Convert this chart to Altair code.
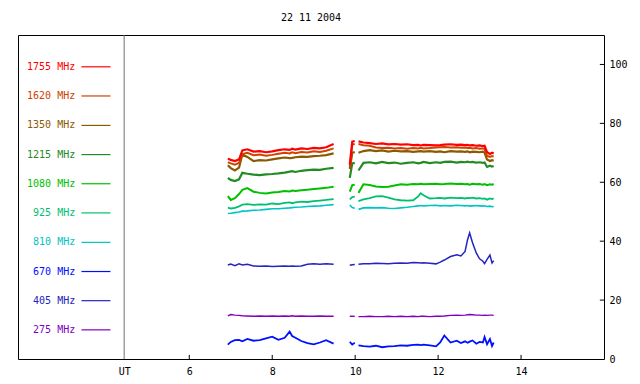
import altair as alt
import pandas as pd

TITLE = "22 11 2004"

FREQS = ["1755 MHz", "1620 MHz", "1350 MHz", "1215 MHz", "1080 MHz",
         "925 MHz", "810 MHz", "670 MHz", "405 MHz", "275 MHz"]
COLORS = ["#ff0000", "#cc4400", "#8b5a00", "#228b22", "#00c000",
          "#00c070", "#00c4c4", "#0010ff", "#2424c0", "#8000c0"]
WIDTHS = [2.2, 2.0, 2.2, 2.2, 2.0, 1.8, 1.6, 1.8, 1.5, 1.4]
LEGEND_Y = [99.2, 89.3, 79.3, 69.4, 59.5, 49.6, 39.6, 29.7, 19.8, 9.9]

# time (UT hours) of the three observed pieces
TA = [6.93, 7.0, 7.1, 7.2, 7.28, 7.4, 7.55, 7.7, 7.85, 8.0, 8.15, 8.3, 8.42,
      8.48, 8.56, 8.7, 8.85, 9.0, 9.15, 9.3, 9.48]
TB = [9.87, 9.93, 9.99]
TC = [10.08, 10.2, 10.35, 10.5, 10.65, 10.8, 10.95, 11.1, 11.25, 11.4, 11.52,
      11.58, 11.65, 11.8, 11.95, 12.05, 12.15, 12.3, 12.45, 12.55, 12.65,
      12.71, 12.76, 12.83, 12.92, 13.0, 13.08, 13.12, 13.18, 13.25, 13.3, 13.34]

f1755 = ([68.0, 67.6, 67.2, 67.8, 70.8, 71.2, 70.4, 70.6, 70.2, 70.5, 70.9,
          71.2, 71.0, 71.4, 71.1, 71.5, 71.3, 71.7, 71.5, 71.9, 73.0]
         + [66.0, 73.8, 74.0]
         + [73.9, 73.5, 73.3, 73.0, 73.2, 72.9, 73.0, 72.8, 72.9, 72.6, 72.7,
            72.5, 72.7, 72.6, 72.5, 72.6, 72.8, 72.9, 72.7, 72.8, 72.6, 72.7,
            72.5, 72.6, 72.4, 72.5, 72.3, 72.4, 70.2, 69.6, 70.0, 69.8])
f1620 = ([66.8, 66.4, 66.0, 66.6, 69.6, 70.0, 69.2, 69.4, 69.0, 69.3, 69.7,
          70.0, 69.8, 70.2, 69.9, 70.3, 70.1, 70.5, 70.3, 70.7, 71.5]
         + [65.0, 72.8, 73.0]
         + [73.0, 72.6, 72.4, 71.8, 71.6, 71.7, 71.5, 71.6, 71.4, 71.6, 71.5,
            71.7, 71.5, 71.6, 71.8, 71.9, 72.0, 71.8, 71.9, 71.7, 71.8, 71.6,
            71.7, 71.5, 71.6, 71.4, 71.5, 71.3, 69.0, 68.6, 68.9, 68.7])
f1350 = ([65.8, 64.8, 64.0, 65.0, 69.4, 68.6, 67.2, 67.5, 67.4, 67.8, 68.1,
          68.4, 68.2, 68.3, 68.5, 68.7, 68.6, 68.9, 69.0, 69.2, 69.8]
         + [64.5, 70.0, 70.3]
         + [70.0, 70.6, 70.9, 70.6, 70.8, 70.4, 70.7, 70.5, 70.6, 70.3, 70.5,
            70.6, 70.4, 70.6, 70.3, 70.5, 70.2, 70.6, 70.4, 70.5, 70.3, 70.5,
            70.2, 70.4, 70.3, 70.2, 70.4, 70.1, 67.7, 67.2, 67.5, 67.3])
f1215 = ([61.5, 60.8, 60.4, 61.0, 63.2, 62.9, 62.6, 62.4, 62.7, 62.8, 63.0,
          63.3, 63.6, 63.8, 63.5, 63.9, 64.1, 64.3, 64.2, 64.6, 64.9]
         + [61.5, 66.4, 66.6]
         + [64.0, 66.6, 66.8, 66.4, 66.9, 66.5, 66.7, 66.3, 66.6, 66.8, 66.4,
            66.6, 66.9, 66.5, 66.8, 66.6, 66.9, 67.0, 66.7, 66.9, 66.8, 67.0,
            66.8, 66.9, 66.7, 66.8, 66.6, 66.7, 65.2, 65.6, 65.3, 65.5])
f1080 = ([55.3, 54.0, 54.6, 56.0, 57.4, 58.0, 56.8, 56.4, 56.2, 56.5, 56.7,
          57.0, 56.9, 57.2, 57.0, 57.3, 57.5, 57.7, 57.9, 58.1, 58.5]
         + [56.8, 59.0, 59.2]
         + [56.4, 59.3, 59.1, 58.6, 58.4, 58.5, 58.9, 59.3, 59.2, 59.4, 59.3,
            59.5, 59.3, 59.4, 59.5, 59.3, 59.4, 59.6, 59.4, 59.5, 59.3, 59.4,
            59.2, 59.5, 59.3, 59.4, 59.2, 59.4, 59.0, 59.3, 59.2, 59.4])
f925 = ([51.4, 51.1, 51.3, 51.8, 52.4, 52.6, 52.3, 52.5, 52.4, 52.8, 52.6,
         53.0, 53.2, 52.9, 53.2, 53.4, 53.3, 53.6, 53.8, 54.0, 54.3]
        + [54.2, 55.0, 55.1]
        + [53.6, 54.2, 54.6, 55.2, 55.3, 54.8, 54.2, 53.9, 53.8, 53.9, 55.2,
           56.3, 55.6, 54.5, 54.6, 54.7, 54.5, 54.8, 54.6, 54.7, 54.5, 54.7,
           54.6, 54.8, 54.5, 54.6, 54.4, 54.5, 54.1, 54.5, 54.3, 54.5])
f810 = ([49.4, 49.5, 49.7, 49.9, 50.2, 50.3, 50.5, 50.6, 50.8, 51.0, 51.0,
         51.2, 51.3, 51.4, 51.5, 51.6, 51.8, 51.9, 52.0, 52.2, 52.4]
        + [52.3, 51.4, 51.2]
        + [50.8, 51.3, 51.4, 51.3, 51.4, 51.2, 51.1, 51.3, 51.5, 51.8, 52.0,
           52.1, 52.0, 52.1, 52.2, 52.0, 52.1, 52.0, 52.2, 52.1, 52.0, 52.1,
           51.9, 52.0, 52.1, 52.0, 51.9, 52.0, 51.8, 51.9, 51.7, 51.8])
f670 = ([4.9, 5.8, 6.4, 6.5, 6.0, 6.8, 6.2, 6.4, 7.0, 7.6, 6.5, 7.2, 9.3,
         7.8, 7.2, 6.1, 5.4, 5.0, 5.6, 6.4, 5.2]
        + [5.8, 4.9, 5.5]
        + [4.6, 4.4, 4.2, 4.5, 4.0, 4.3, 4.4, 4.6, 4.5, 4.8, 4.9, 4.7, 4.9,
           4.6, 4.3, 5.6, 8.0, 5.6, 6.2, 5.4, 6.0, 5.5, 5.9, 6.3, 5.2, 5.8,
           5.6, 7.5, 5.0, 6.8, 4.4, 5.6])
f405 = ([31.9, 32.2, 31.7, 32.3, 31.9, 32.2, 31.6, 31.5, 31.6, 31.4, 31.5,
         31.6, 31.5, 31.6, 31.5, 31.6, 32.2, 32.3, 32.2, 32.3, 32.2]
        + [31.8, 32.0, 32.1]
        + [32.2, 32.3, 32.3, 32.5, 32.4, 32.3, 32.5, 32.6, 32.5, 32.8, 32.7,
           32.6, 32.7, 32.5, 32.3, 32.9, 33.6, 34.8, 35.4, 35.0, 36.5, 40.5,
           42.8, 39.5, 36.0, 34.0, 33.2, 32.4, 33.8, 35.3, 32.6, 33.4])
f275 = ([14.6, 15.1, 14.9, 14.8, 14.7, 14.6, 14.5, 14.6, 14.5, 14.6, 14.5,
         14.6, 14.5, 14.7, 14.5, 14.6, 14.5, 14.5, 14.6, 14.5, 14.5]
        + [14.5, 14.5, 14.5]
        + [14.4, 14.4, 14.5, 14.4, 14.4, 14.5, 14.4, 14.5, 14.4, 14.5, 14.4,
           14.5, 14.5, 14.4, 14.5, 14.5, 14.6, 14.8, 14.9, 14.8, 14.9, 15.0,
           15.1, 15.0, 14.9, 14.9, 14.8, 14.9, 14.8, 14.9, 14.9, 14.8])

SERIES = [f1755, f1620, f1350, f1215, f1080, f925, f810, f670, f405, f275]

X_TICKS = [6, 8, 10, 12, 14]
Y_TICKS = [20, 40, 60, 80, 100]
UT_POS = 4.43
X_DOMAIN = [1.87, 16.0]
Y_DOMAIN = [0, 110]

T = TA + TB + TC
SEG = ["a"] * len(TA) + ["b"] * len(TB) + ["c"] * len(TC)

rows = []
# draw low-priority first so that red ends on top
for name, vals, w in reversed(list(zip(FREQS, SERIES, WIDTHS))):
    assert len(vals) == len(T), name
    for t, v, s in zip(T, vals, SEG):
        rows.append({"t": t, "v": v, "f": name, "seg": name + s, "w": w})
df = pd.DataFrame(rows)

FONT = "DejaVu Sans Mono"
xs = alt.Scale(domain=X_DOMAIN, nice=False, zero=False)
ys = alt.Scale(domain=Y_DOMAIN, nice=False, zero=False)
cs = alt.Scale(domain=FREQS, range=COLORS)

lines = alt.Chart(df).mark_line().encode(
    x=alt.X("t:Q", scale=xs,
            axis=alt.Axis(values=[UT_POS] + X_TICKS, ticks=False, domain=False,
                          grid=False, labelFlush=False, labelOverlap=False,
                          labelExpr="datum.value < 5 ? 'UT' : datum.label",
                          labelPadding=7, labelFont=FONT, labelFontSize=10,
                          labelColor="black", title=None)),
    y=alt.Y("v:Q", scale=ys,
            axis=alt.Axis(orient="right", values=[0] + Y_TICKS, ticks=False,
                          domain=False, grid=False, labelPadding=5,
                          labelFont=FONT, labelFontSize=10, labelColor="black",
                          title=None)),
    color=alt.Color("f:N", scale=cs, legend=None),
    strokeWidth=alt.StrokeWidth("w:Q", scale=None, legend=None),
    detail="seg:N",
)

leg_df = pd.DataFrame({"f": FREQS, "y": LEGEND_Y})
leg_text = alt.Chart(leg_df).mark_text(
    align="right", baseline="middle", font=FONT, fontSize=10
).encode(
    x=alt.datum(3.25, scale=xs), y=alt.Y("y:Q", scale=ys),
    text="f:N", color=alt.Color("f:N", scale=cs, legend=None))
leg_rule = alt.Chart(leg_df).mark_rule(strokeWidth=1.2).encode(
    x=alt.datum(3.40, scale=xs), x2=alt.datum(4.10),
    y=alt.Y("y:Q", scale=ys), color=alt.Color("f:N", scale=cs, legend=None))

divider = alt.Chart(pd.DataFrame({"x": [UT_POS]})).mark_rule(
    color="#707070", strokeWidth=1).encode(
    x=alt.X("x:Q", scale=xs), y=alt.datum(Y_DOMAIN[0], scale=ys),
    y2=alt.datum(Y_DOMAIN[1]))

xt = alt.Chart(pd.DataFrame({"x": X_TICKS})).mark_rule(
    color="black", strokeWidth=1).encode(
    x=alt.X("x:Q", scale=xs), y=alt.datum(0, scale=ys), y2=alt.datum(1.4))
yt = alt.Chart(pd.DataFrame({"y": Y_TICKS})).mark_rule(
    color="black", strokeWidth=1).encode(
    y=alt.Y("y:Q", scale=ys), x=alt.datum(15.9, scale=xs), x2=alt.datum(16.0))

chart = alt.layer(divider, xt, yt, leg_rule, leg_text, lines).properties(
    width=586, height=324,
    title=alt.TitleParams(TITLE, font=FONT, fontSize=10, fontWeight="normal",
                          color="black", offset=12, anchor="middle"),
    autosize=alt.AutoSizeParams(type="none"),
    padding={"left": 10, "top": 27, "right": 28, "bottom": 16},
).configure(background="white").configure_view(stroke="black", strokeWidth=1)

chart.save("out.html", embed_options={"renderer": "svg", "actions": False})
